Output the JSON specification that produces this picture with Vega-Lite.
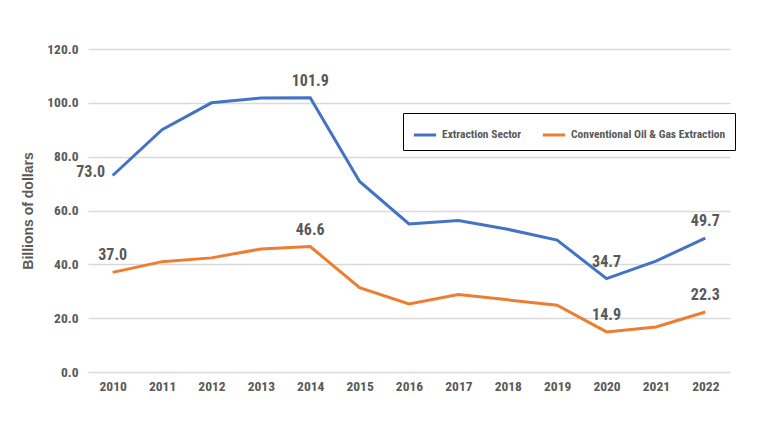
{
  "$schema": "https://vega.github.io/schema/vega-lite/v6.json",
  "width": 642,
  "height": 323,
  "autosize": {"type": "none"},
  "padding": {"left": 88, "top": 49, "right": 33, "bottom": 54},
  "background": "white",
  "config": {
    "view": {"stroke": null},
    "font": "'Roboto Condensed', 'DejaVu Sans Condensed', Roboto"
  },
  "data": {
    "values": [
      {"year": "2010", "series": "Extraction Sector", "value": 73.0, "label": "73.0", "pos": "left"},
      {"year": "2011", "series": "Extraction Sector", "value": 90.0, "label": "", "pos": ""},
      {"year": "2012", "series": "Extraction Sector", "value": 100.0, "label": "", "pos": ""},
      {"year": "2013", "series": "Extraction Sector", "value": 101.8, "label": "", "pos": ""},
      {"year": "2014", "series": "Extraction Sector", "value": 101.9, "label": "101.9", "pos": "above"},
      {"year": "2015", "series": "Extraction Sector", "value": 70.8, "label": "", "pos": ""},
      {"year": "2016", "series": "Extraction Sector", "value": 55.0, "label": "", "pos": ""},
      {"year": "2017", "series": "Extraction Sector", "value": 56.3, "label": "", "pos": ""},
      {"year": "2018", "series": "Extraction Sector", "value": 53.0, "label": "", "pos": ""},
      {"year": "2019", "series": "Extraction Sector", "value": 49.0, "label": "", "pos": ""},
      {"year": "2020", "series": "Extraction Sector", "value": 34.7, "label": "34.7", "pos": "above"},
      {"year": "2021", "series": "Extraction Sector", "value": 41.2, "label": "", "pos": ""},
      {"year": "2022", "series": "Extraction Sector", "value": 49.7, "label": "49.7", "pos": "above"},
      {"year": "2010", "series": "Conventional Oil & Gas Extraction", "value": 37.0, "label": "37.0", "pos": "above"},
      {"year": "2011", "series": "Conventional Oil & Gas Extraction", "value": 41.0, "label": "", "pos": ""},
      {"year": "2012", "series": "Conventional Oil & Gas Extraction", "value": 42.4, "label": "", "pos": ""},
      {"year": "2013", "series": "Conventional Oil & Gas Extraction", "value": 45.7, "label": "", "pos": ""},
      {"year": "2014", "series": "Conventional Oil & Gas Extraction", "value": 46.6, "label": "46.6", "pos": "above"},
      {"year": "2015", "series": "Conventional Oil & Gas Extraction", "value": 31.3, "label": "", "pos": ""},
      {"year": "2016", "series": "Conventional Oil & Gas Extraction", "value": 25.3, "label": "", "pos": ""},
      {"year": "2017", "series": "Conventional Oil & Gas Extraction", "value": 28.8, "label": "", "pos": ""},
      {"year": "2018", "series": "Conventional Oil & Gas Extraction", "value": 26.8, "label": "", "pos": ""},
      {"year": "2019", "series": "Conventional Oil & Gas Extraction", "value": 24.8, "label": "", "pos": ""},
      {"year": "2020", "series": "Conventional Oil & Gas Extraction", "value": 14.9, "label": "14.9", "pos": "above"},
      {"year": "2021", "series": "Conventional Oil & Gas Extraction", "value": 16.7, "label": "", "pos": ""},
      {"year": "2022", "series": "Conventional Oil & Gas Extraction", "value": 22.3, "label": "22.3", "pos": "above"}
    ]
  },
  "encoding": {
    "x": {
      "field": "year", "type": "ordinal",
      "scale": {"type": "point", "padding": 0.5},
      "axis": {
        "title": null, "labelAngle": 0, "ticks": false, "domain": false,
        "labelFontSize": 13.5, "labelFontWeight": "bold", "labelColor": "#595959",
        "labelPadding": 7, "grid": false
      }
    },
    "y": {
      "field": "value", "type": "quantitative",
      "scale": {"domain": [0, 120]},
      "axis": {
        "title": "Billions of dollars", "titleFont": "Liberation Sans", "titleFontSize": 14,
        "titleFontWeight": "bold", "titleColor": "#595959", "titlePadding": 11,
        "values": [0, 20, 40, 60, 80, 100, 120], "format": ".1f",
        "labelFontSize": 13.5, "labelFontWeight": "bold", "labelColor": "#595959",
        "labelPadding": 10, "ticks": false, "domain": false,
        "gridColor": "#d9d9d9", "gridWidth": 1.5
      }
    }
  },
  "layer": [
    {
      "mark": {"type": "line", "strokeWidth": 3},
      "encoding": {
        "color": {
          "field": "series", "type": "nominal",
          "scale": {"domain": ["Extraction Sector", "Conventional Oil & Gas Extraction"], "range": ["#4472C4", "#ED7D31"]},
          "legend": {
            "title": null, "orient": "none", "direction": "horizontal",
            "legendX": 315, "legendY": 64,
            "symbolType": "stroke", "symbolStrokeWidth": 3, "symbolSize": 500,
            "labelFontSize": 11.5, "labelFontWeight": "bold", "labelColor": "#595959",
            "labelLimit": 0,
            "strokeColor": "black", "padding": 9, "columnPadding": 14,
            "fillColor": "white"
          }
        }
      }
    },
    {
      "transform": [{"filter": "datum.pos == 'above'"}],
      "mark": {"type": "text", "dy": -17, "fontSize": 16, "fontWeight": "bold", "color": "#595959"},
      "encoding": {"text": {"field": "label"}}
    },
    {
      "transform": [{"filter": "datum.pos == 'left'"}],
      "mark": {"type": "text", "dx": -22, "dy": -4, "fontSize": 16, "fontWeight": "bold", "color": "#595959"},
      "encoding": {"text": {"field": "label"}}
    }
  ]
}
